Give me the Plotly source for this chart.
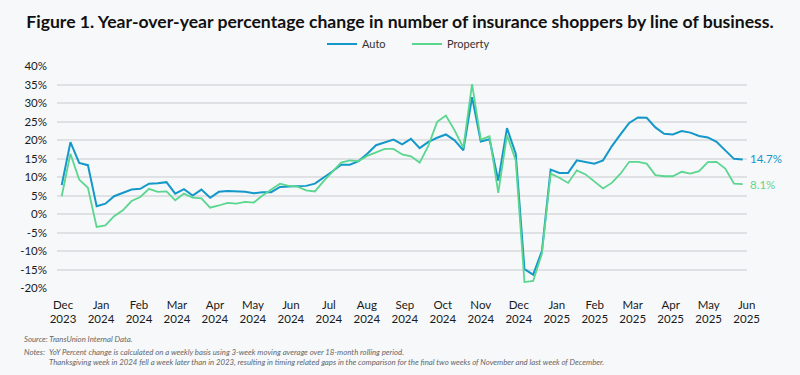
import plotly.graph_objects as go
import numpy as np

# Weekly series (Dec 2023 -> end of May 2025), YoY % change
auto = [7.8, 19.4, 13.8, 13.2, 2.1, 2.8, 4.8, 5.7, 6.6, 6.8,
        8.2, 8.3, 8.6, 5.5, 6.7, 5.0, 6.6, 4.4, 6.0, 6.2,
        6.2, 6.0, 5.6, 5.9, 5.9, 7.3, 7.4, 7.6, 7.6, 8.2,
        9.8, 11.5, 13.3, 13.3, 14.3, 16.3, 18.6, 19.4, 20.1, 18.8,
        20.3, 17.8, 19.5, 20.6, 21.5, 19.9, 17.2, 31.6, 19.6, 20.2,
        9.0, 23.2, 16.3, -14.9, -16.4, -10.0, 12.0, 11.1, 11.1, 14.5,
        14.0, 13.6, 14.5, 18.3, 21.5, 24.6, 26.1, 26.0, 23.4, 21.7,
        21.5, 22.4, 22.0, 21.1, 20.7, 19.5, 17.2, 14.9, 14.7]
prop = [4.8, 16.3, 9.3, 7.1, -3.5, -3.1, -0.6, 1.0, 3.5, 4.6,
        6.8, 6.0, 6.1, 3.7, 5.5, 4.4, 4.2, 1.7, 2.3, 3.0,
        2.8, 3.3, 3.1, 5.0, 6.6, 8.2, 7.6, 7.4, 6.4, 6.1,
        8.9, 11.4, 13.9, 14.5, 14.3, 15.7, 16.6, 17.6, 17.6, 16.1,
        15.6, 13.9, 18.5, 24.9, 26.6, 22.6, 17.9, 35.1, 20.1, 21.0,
        5.7, 21.3, 14.5, -18.4, -18.1, -10.7, 10.9, 9.8, 8.4, 11.8,
        10.7, 8.9, 6.9, 8.4, 10.9, 14.1, 14.1, 13.6, 10.5, 10.2,
        10.2, 11.4, 10.9, 11.6, 14.0, 14.1, 12.3, 8.2, 8.1]
month_labels = ["Dec<br>2023", "Jan<br>2024", "Feb<br>2024", "Mar<br>2024", "Apr<br>2024",
                "May<br>2024", "Jun<br>2024", "Jul<br>2024", "Aug<br>2024", "Sep<br>2024",
                "Oct<br>2024", "Nov<br>2024", "Dec<br>2024", "Jan<br>2025", "Feb<br>2025",
                "Mar<br>2025", "Apr<br>2025", "May<br>2025", "Jun<br>2025"]
y_ticks = [-20, -15, -10, -5, 0, 5, 10, 15, 20, 25, 30, 35, 40]

BLUE = "#1497c9"
GREEN = "#5ad68f"
FONT = "Lato"

weeks = list(range(len(auto)))
tickpos = list(np.linspace(0.15, 78.45, len(month_labels)))

fig = go.Figure()
fig.add_trace(go.Scatter(x=weeks, y=auto, mode="lines", name="Auto",
                         line=dict(color=BLUE, width=2)))
fig.add_trace(go.Scatter(x=weeks, y=prop, mode="lines", name="Property",
                         line=dict(color=GREEN, width=1.8)))

fig.add_shape(type="line", xref="paper", x0=0, x1=1, yref="y", y0=0, y1=0,
              line=dict(color="#555555", width=1.5, dash="dot"), layer="below")

fig.add_annotation(x=weeks[-1], y=auto[-1], text=f"{auto[-1]}%", showarrow=False,
                   xanchor="left", xshift=5, yshift=1, font=dict(color=BLUE, size=11.5, family=FONT))
fig.add_annotation(x=weeks[-1], y=prop[-1], text=f"{prop[-1]}%", showarrow=False,
                   xanchor="left", xshift=5, font=dict(color=GREEN, size=11.5, family=FONT))

def px_x(p):
    return (p - 57) / 690

def px_y(p):
    return (288 - p) / 222

note_font = dict(size=7.8, color="#666666", family=FONT)
fig.add_annotation(xref="paper", yref="paper", x=px_x(22), y=px_y(339),
                   text="<i>Source: TransUnion Internal Data.</i>", showarrow=False,
                   xanchor="left", yanchor="middle", font=note_font)
fig.add_annotation(xref="paper", yref="paper", x=px_x(22), y=px_y(352),
                   text="<i>Notes:</i>", showarrow=False,
                   xanchor="left", yanchor="middle", font=note_font)
fig.add_annotation(xref="paper", yref="paper", x=px_x(47), y=px_y(352),
                   text="<i>YoY Percent change is calculated on a weekly basis using 3-week moving average over 18-month rolling period.</i>",
                   showarrow=False, xanchor="left", yanchor="middle", font=note_font)
fig.add_annotation(xref="paper", yref="paper", x=px_x(47), y=px_y(362),
                   text="<i>Thanksgiving week in 2024 fell a week later than in 2023, resulting in timing related gaps in the comparison for the final two weeks of November and last week of December.</i>",
                   showarrow=False, xanchor="left", yanchor="middle", font=note_font)

fig.update_layout(
    width=800, height=375,
    margin=dict(l=57, r=53, t=66, b=87),
    paper_bgcolor="#f7f8fa", plot_bgcolor="#f7f8fa",
    font=dict(family=FONT, color="#222222"),
    title=dict(text="<b>Figure 1. Year-over-year percentage change in number of insurance shoppers by line of business.</b>",
               x=0.5, xanchor="center", y=1 - 22 / 375, yanchor="middle", yref="container",
               font=dict(size=17.6, color="#111111", family=FONT)),
    legend=dict(orientation="h", x=px_x(322), xanchor="left", y=px_y(44), yanchor="middle",
                font=dict(size=11, color="#333333"), bgcolor="rgba(0,0,0,0)",
                entrywidth=40, entrywidthmode="pixels"),
    showlegend=True,
)
fig.update_xaxes(range=[-0.54, 78.49], tickvals=tickpos, ticktext=month_labels,
                 showgrid=False, zeroline=False, showline=False, automargin=False,
                 tickfont=dict(size=11.5, color="#1a1a1a"), ticklabelstandoff=8)
fig.update_yaxes(range=[-20, 40], tickvals=y_ticks, ticktext=[f"{v}%" for v in y_ticks],
                 showgrid=True, gridcolor="#dfe1e4", gridwidth=1.5, zeroline=False, showline=False,
                 automargin=False,
                 tickfont=dict(size=11.5, color="#1a1a1a"), ticklabelstandoff=9)

fig.write_html("out.html", config={"displayModeBar": False},
               post_script="document.body.style.margin='0';document.body.style.background='#f7f8fa';")
